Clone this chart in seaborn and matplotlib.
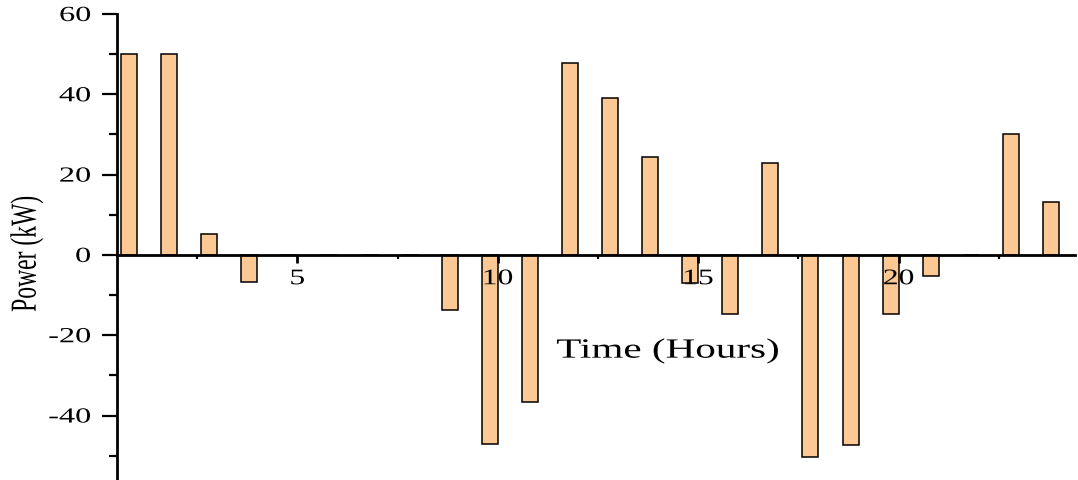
import numpy as np
import pandas as pd
import matplotlib
matplotlib.use("Agg")
import matplotlib.pyplot as plt
import seaborn as sns
from matplotlib.patheffects import AbstractPathEffect
from matplotlib.transforms import Affine2D
from matplotlib.ticker import MultipleLocator, FormatStrFormatter

# ---- data ----
hours = list(range(1, 25))
power = [50, 50, 5.1, -6.8, 0, 0, 0, 0, -13.7, -47.2, -36.7, 47.8,
         39.2, 24.5, -7.1, -14.6, 22.8, -50.2, -47.4, -14.6, -5.2, 0, 30.1, 13.1]
x_major_ticks = [5, 10, 15, 20]
y_major_ticks = [-40, -20, 0, 20, 40, 60]
x_label = "Time (Hours)"
y_label = "Power (kW)"
bar_color = "#FCC994"


class Stretch(AbstractPathEffect):
    """Horizontally stretch rendered glyphs (text stays a Text artist)."""
    def __init__(self, sx, anchor="center"):
        super().__init__()
        self.sx = sx
        self.anchor = anchor

    def draw_path(self, renderer, gc, tpath, affine, rgbFace=None):
        ext = tpath.get_extents(affine)
        if self.anchor == "right":
            cx = ext.x1
        elif self.anchor == "left":
            cx = ext.x0
        else:
            cx = 0.5 * (ext.x0 + ext.x1)
        aff = affine + Affine2D().translate(-cx, 0).scale(self.sx, 1).translate(cx, 0)
        renderer.draw_path(gc, tpath, aff, rgbFace)


sns.set_style("ticks")
plt.rcParams["font.family"] = ["Liberation Serif", "DejaVu Serif"]
plt.rcParams["axes.axisbelow"] = False

fig = plt.figure(figsize=(10.78, 4.81), dpi=100)
ax = fig.add_axes([117 / 1078, 1 / 481, 958 / 1078, 465 / 481])

df = pd.DataFrame({"Hour": hours, "Power": power})
sns.barplot(data=df, x="Hour", y="Power", native_scale=True, width=0.4,
            color=bar_color, saturation=1, edgecolor="black", linewidth=1.1,
            errorbar=None, ax=ax, zorder=1)
# align bars with their right edge on the hour
for p in ax.patches:
    p.set_x(p.get_x() - p.get_width() / 2)

ax.set_axisbelow(False)
ax.set_xlim(0.5, 24.4)
ax.set_ylim(-55.8, 60)

ax.spines["top"].set_visible(False)
ax.spines["right"].set_visible(False)
ax.spines["bottom"].set_position(("data", 0))
ax.spines["left"].set_linewidth(2.0)
ax.spines["bottom"].set_linewidth(2.0)
ax.spines["left"].set_color("black")
ax.spines["bottom"].set_color("black")

ax.xaxis.set_major_locator(plt.FixedLocator(x_major_ticks))
ax.xaxis.set_minor_locator(MultipleLocator(2.5))
ax.yaxis.set_major_locator(plt.FixedLocator(y_major_ticks))
ax.yaxis.set_minor_locator(MultipleLocator(10))
ax.xaxis.set_major_formatter(FormatStrFormatter("%d"))
ax.yaxis.set_major_formatter(FormatStrFormatter("%d"))

ax.tick_params(axis="x", which="major", direction="out", length=6, width=2.0,
               color="black", labelsize=16, pad=5.0, labelcolor="black")
ax.tick_params(axis="x", which="minor", direction="out", length=3, width=1.6,
               color="black")
ax.tick_params(axis="y", which="major", direction="out", length=10.8, width=1.6,
               color="black", labelsize=15.5, pad=8, labelcolor="black")
ax.tick_params(axis="y", which="minor", direction="out", length=5.8, width=1.6,
               color="black")

ax.set_xlabel(x_label, fontsize=20, color="black")
ax.xaxis.set_label_coords(0.575, 0.275)
ax.xaxis.label.set_va("center")
ax.xaxis.label.set_ha("center")

ax.set_ylabel(y_label, fontsize=17, color="black")
ax.yaxis.set_label_coords(-0.094, 0.484)
ax.yaxis.label.set_va("center")
ax.yaxis.label.set_ha("center")

fig.canvas.draw()
for lbl in ax.get_xticklabels():
    lbl.set_path_effects([Stretch(1.42, "center")])
for lbl in ax.get_yticklabels():
    lbl.set_path_effects([Stretch(1.5, "right")])
ax.xaxis.label.set_path_effects([Stretch(1.48, "center")])
ax.yaxis.label.set_path_effects([Stretch(1.55, "center")])

fig.savefig("out.png", dpi=100, facecolor="white")
